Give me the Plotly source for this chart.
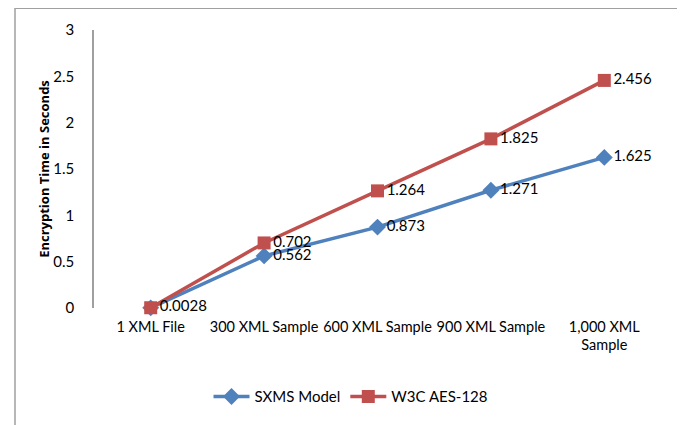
import plotly.graph_objects as go

categories = ["1 XML File", "300 XML Sample", "600 XML Sample", "900 XML Sample", "1,000 XML<br>Sample"]
sxms_values = [0.0018, 0.562, 0.873, 1.271, 1.625]
w3c_values = [0.0028, 0.702, 1.264, 1.825, 2.456]
sxms_labels = ["", "0.562", "0.873", "1.271", "1.625"]
w3c_labels = ["0.0028", "0.702", "1.264", "1.825", "2.456"]
y_ticks = [0, 0.5, 1, 1.5, 2, 2.5, 3]
y_tick_text = ["0", "0.5", "1", "1.5", "2", "2.5", "3"]

FONT = "Lato, Open Sans, sans-serif"
OFF = 7  # page offset of the figure in the screenshot
W, H = 685, 425
# target plot area in screenshot pixels: x 93..660, y 25..307
L, T = 93 - OFF, 25 - OFF
pw, ph = 567, 282
R, B = W - L - pw, H - T - ph

fig = go.Figure()
fig.add_trace(go.Scatter(
    x=categories, y=sxms_values, name="SXMS Model", mode="lines+markers+text",
    line=dict(color="#4F81BD", width=3.5),
    marker=dict(symbol="diamond", size=13, color="#4F81BD"),
    text=sxms_labels, textposition="middle right",
    textfont=dict(family=FONT, size=15, color="#000000"),
    cliponaxis=False,
))
fig.add_trace(go.Scatter(
    x=categories, y=w3c_values, name="W3C AES-128", mode="lines+markers+text",
    line=dict(color="#C0504D", width=3.5),
    marker=dict(symbol="square", size=13, color="#C0504D"),
    text=w3c_labels, textposition="middle right",
    textfont=dict(family=FONT, size=15, color="#000000"),
    cliponaxis=False,
))

def px_x(p):
    return (p - OFF - L) / pw

def px_y(p):
    return (H - B - (p - OFF)) / ph

fig.add_shape(type="rect", xref="paper", yref="paper",
              x0=px_x(14), x1=px_x(679), y0=px_y(445), y1=px_y(3),
              line=dict(color="#A0A0A0", width=1.5), fillcolor="rgba(0,0,0,0)", layer="below")

fig.update_layout(
    width=W, height=H,
    margin=dict(l=L, r=R, t=T, b=B),
    plot_bgcolor="white", paper_bgcolor="white",
    font=dict(family=FONT, size=14, color="#000000"),
    showlegend=True,
    legend=dict(orientation="h", x=px_x(350), xanchor="center", y=px_y(397), yanchor="middle",
                font=dict(family=FONT, size=15), itemwidth=36),
    xaxis=dict(type="category", range=[-0.5, 4.5], showline=False, showgrid=False,
               ticks="", tickfont=dict(family=FONT, size=14.5), zeroline=False,
               ticklabelstandoff=8),
    yaxis=dict(range=[0, 3], tickvals=y_ticks, ticktext=y_tick_text, showgrid=False,
               showline=True, linecolor="#A0A0A0", linewidth=1.5, ticks="", zeroline=False,
               tickfont=dict(family=FONT, size=15), ticklabelstandoff=15,
               title=dict(text="<b>Encryption Time in Seconds</b>",
                          font=dict(family="Open Sans, sans-serif", size=13), standoff=0)),
)

fig.write_html("out.html")
